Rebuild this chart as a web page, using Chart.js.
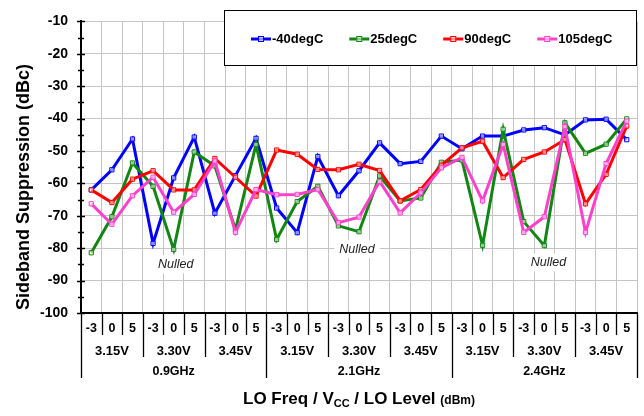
<!DOCTYPE html>
<html>
<head>
<meta charset="utf-8">
<script src="https://cdn.jsdelivr.net/npm/chart.js@4.4.1/dist/chart.umd.min.js"></script>
<style>
  html, body { margin: 0; padding: 0; background: #fff; }
  #wrap { width: 644px; height: 416px; }
</style>
</head>
<body>
<div id="wrap"><canvas id="c"></canvas></div>
<script>
// x axis levels (LO level / Vcc / LO freq)
const levels = ['-3', '0', '5'];
const voltages = ['3.15V', '3.30V', '3.45V'];
const freqs = ['0.9GHz', '2.1GHz', '2.4GHz'];

const seriesNames = ['-40degC', '25degC', '90degC', '105degC'];

const tempM40 = [-62, -55.8, -46.3, -78.5, -58.3, -45.7, -69.2, -57.6, -46.1,
  -67.6, -75.2, -51.7, -63.8, -56.1, -47.5, -53.9, -53.2, -45.4,
  -49.3, -45.4, -45.4, -43.5, -42.8, -45, -40.4, -40.2, -46.5];
const temp25 = [-81.4, -70.3, -53.7, -60.9, -80.4, -50.3, -54.6, -74.3, -48.0,
  -77.3, -65.6, -60.9, -73.1, -74.9, -57.7, -65.4, -64.5, -53.5,
  -52.8, -79.1, -43.3, -71.8, -79.2, -41.3, -50.7, -47.9, -40.1];
const temp90 = [-62, -65.9, -58.7, -56.1, -62, -62, -52.3, -58.1, -63.9,
  -49.7, -51, -55.7, -55.8, -54.1, -56, -65.4, -61.9, -54.4,
  -49, -47, -58.2, -52.6, -50.3, -46.5, -66.3, -57.2, -42.3];
const temp105 = [-66.3, -72.6, -63.8, -58.1, -68.9, -63.4, -53.1, -75.1, -61.9,
  -63.5, -63.4, -61.9, -72.1, -70.4, -59.4, -69.1, -62.9, -55.2,
  -52, -65.4, -48, -75.1, -70.3, -42.5, -75.1, -53.9, -40.8];

const yTicks = [-100, -90, -80, -70, -60, -50, -40, -30, -20, -10];

// annotation text: [category index, dBc]
const nulledText = 'Nulled';
const nulledAt = [[4.1, -85.0], [12.9, -80.3], [22.2, -84.4]];

const FONT = '"Liberation Sans", Arial, sans-serif';
const colors = ['#0000ff', '#138513', '#ff0000', '#ff40cc'];

const categories = [];
freqs.forEach(f => voltages.forEach(v => levels.forEach(l => categories.push(f + ' ' + v + ' ' + l))));

function makeSet(label, data, color, order) {
  return {
    label: label,
    data: data,
    borderColor: color,
    backgroundColor: color,
    borderWidth: 3,
    tension: 0,
    pointStyle: 'rect',
    pointRadius: 3,
    pointBorderWidth: 1,
    pointBorderColor: color,
    pointBackgroundColor: 'rgba(255,255,255,0.55)',
    order: order
  };
}

const decorPlugin = {
  id: 'decor',
  beforeDatasetsDraw(chart) {
    const ctx = chart.ctx;
    const xs = chart.scales.x, ys = chart.scales.y;
    ctx.save();
    ctx.font = 'italic 12.5px ' + FONT;
    ctx.textAlign = 'center';
    ctx.textBaseline = 'middle';
    nulledAt.forEach(([i, v]) => {
      const px = xs.getPixelForValue(i), py = ys.getPixelForValue(v);
      const w = ctx.measureText(nulledText).width + 10;
      ctx.fillStyle = '#fff';
      ctx.fillRect(px - w / 2, py - 9, w, 18);
      ctx.fillStyle = '#222';
      ctx.fillText(nulledText, px, py);
    });
    ctx.restore();
  },
  afterDraw(chart) {
    const ctx = chart.ctx;
    const xs = chart.scales.x, ys = chart.scales.y;
    const area = chart.chartArea;
    const n = categories.length;
    const cw = (area.right - area.left) / n;
    ctx.save();

    // y ticks (major + minor)
    ctx.strokeStyle = '#000';
    ctx.lineWidth = 1.5;
    for (let v = -100; v <= -10; v += 5) {
      const py = Math.round(ys.getPixelForValue(v)) + 0.5;
      const major = v % 10 === 0;
      ctx.beginPath();
      ctx.moveTo(area.left - (major ? 4 : 3), py);
      ctx.lineTo(area.left + (major ? 4 : 3), py);
      ctx.stroke();
    }

    // x multi-level labels
    ctx.lineWidth = 1.3;
    for (let b = 0; b <= n; b++) {
      const px = Math.round(area.left + b * cw) + 0.5;
      let end = area.bottom + 22;
      if (b % 9 === 0) end = area.bottom + 65;
      else if (b % 3 === 0) end = area.bottom + 44;
      ctx.beginPath();
      ctx.moveTo(px, area.bottom);
      ctx.lineTo(px, end);
      ctx.stroke();
    }
    ctx.fillStyle = '#000';
    ctx.textAlign = 'center';
    ctx.textBaseline = 'middle';
    ctx.font = 'bold 12.5px ' + FONT;
    for (let i = 0; i < n; i++) {
      ctx.fillText(levels[i % 3], xs.getPixelForValue(i), area.bottom + 15.5);
    }
    ctx.font = 'bold 13px ' + FONT;
    for (let g = 0; g < n / 3; g++) {
      ctx.fillText(voltages[g % 3], area.left + (g * 3 + 1.5) * cw, area.bottom + 38);
    }
    ctx.font = 'bold 12.5px ' + FONT;
    for (let g = 0; g < n / 9; g++) {
      ctx.fillText(freqs[g], area.left + (g * 9 + 4.5) * cw, area.bottom + 58.5);
    }

    // x title with subscript
    const parts = [
      ['LO Freq / V', 'bold 17px ', 0],
      ['CC', 'bold 11px ', 3],
      [' / LO Level ', 'bold 17px ', 0],
      ['(dBm)', 'bold 12px ', 0]
    ];
    let total = 0;
    parts.forEach(p => { ctx.font = p[1] + FONT; total += ctx.measureText(p[0]).width; });
    let tx = (area.left + area.right) / 2 - total / 2;
    ctx.textAlign = 'left';
    ctx.textBaseline = 'alphabetic';
    parts.forEach(p => {
      ctx.font = p[1] + FONT;
      ctx.fillText(p[0], tx, 404 + p[2]);
      tx += ctx.measureText(p[0]).width;
    });

    // y title
    ctx.translate(24, 187);
    ctx.rotate(-Math.PI / 2);
    ctx.textAlign = 'center';
    ctx.textBaseline = 'middle';
    ctx.font = 'bold 18px ' + FONT;
    ctx.fillText('Sideband Suppression (dBc)', 0, 0);
    ctx.setTransform(1, 0, 0, 1, 0, 0);

    // legend box
    const bx = 224, by = 10, bw = area.right - bx, bh = 56;
    ctx.fillStyle = '#fff';
    ctx.fillRect(bx, by, bw, bh);
    ctx.strokeStyle = '#000';
    ctx.lineWidth = 1;
    ctx.strokeRect(bx + 0.5, by + 0.5, bw - 1, bh - 1);
    ctx.font = 'bold 13px ' + FONT;
    ctx.textBaseline = 'middle';
    ctx.textAlign = 'left';
    let lx = 251;
    const ly = 39;
    chart.data.datasets.forEach(ds => {
      ctx.strokeStyle = ds.borderColor;
      ctx.lineWidth = 3;
      ctx.beginPath();
      ctx.moveTo(lx, ly);
      ctx.lineTo(lx + 20, ly);
      ctx.stroke();
      ctx.lineWidth = 1;
      ctx.fillStyle = 'rgba(255,255,255,0.55)';
      ctx.fillRect(lx + 7, ly - 3, 6, 6);
      ctx.strokeRect(lx + 7.5, ly - 2.5, 5, 5);
      ctx.fillStyle = '#000';
      ctx.fillText(ds.label, lx + 21, ly);
      lx += 21 + ctx.measureText(ds.label).width + 26;
    });
    ctx.restore();
  }
};

new Chart(document.getElementById('c'), {
  type: 'line',
  data: {
    labels: categories,
    datasets: [
      makeSet(seriesNames[0], tempM40, colors[0], 4),
      makeSet(seriesNames[1], temp25, colors[1], 3),
      makeSet(seriesNames[2], temp90, colors[2], 2),
      makeSet(seriesNames[3], temp105, colors[3], 1)
    ]
  },
  options: {
    responsive: true,
    maintainAspectRatio: false,
    animation: false,
    devicePixelRatio: 1,
    layout: { padding: { top: 10, right: 7, left: 0, bottom: 0 } },
    plugins: { legend: { display: false }, tooltip: { enabled: false } },
    scales: {
      x: {
        type: 'category',
        offset: true,
        grid: { offset: true, color: '#c4c4c4', drawTicks: false },
        border: { color: '#000', width: 2 },
        ticks: { display: false },
        afterFit: s => { s.height = 103; }
      },
      y: {
        min: -100,
        max: -10,
        afterBuildTicks: s => { s.ticks = yTicks.map(v => ({ value: v })); },
        grid: { color: '#c4c4c4', drawTicks: false },
        border: { color: '#000', width: 2 },
        ticks: {
          color: '#000',
          padding: 13,
          font: { family: FONT, size: 14, weight: 'bold' }
        },
        afterFit: s => { s.width = 81; }
      }
    }
  },
  plugins: [decorPlugin]
});
</script>
</body>
</html>
